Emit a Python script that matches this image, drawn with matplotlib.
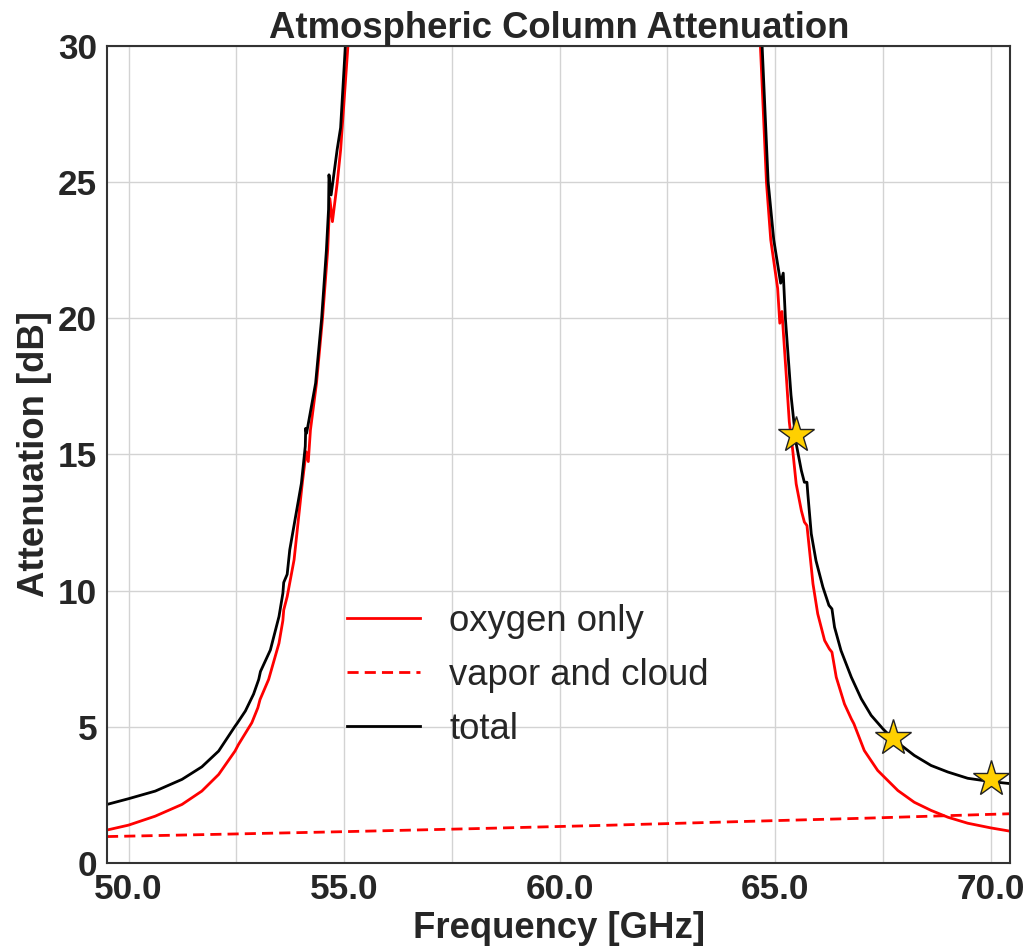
import matplotlib
matplotlib.use("Agg")
import matplotlib.pyplot as plt
from matplotlib.ticker import MultipleLocator, FormatStrFormatter

plt.rcParams['font.family'] = ['Liberation Sans', 'DejaVu Sans']

# ---- data ----
freq_left = [49.5, 50.0, 50.62, 51.24, 51.70, 52.09, 52.47, 52.55, 52.86, 53.0,
             53.05, 53.25, 53.49, 53.58, 53.6, 53.68, 53.84, 54.03, 54.12, 54.17, 54.22, 54.36,
             54.5, 54.62, 54.67, 54.73, 54.84, 54.92, 55.09, 55.12]
oxygen_left = [1.21, 1.39, 1.72, 2.15, 2.64, 3.25, 4.11, 4.35, 5.15, 5.7,
               6.0, 6.74, 8.07, 8.9, 9.29, 9.78, 11.13, 13.94, 15.1, 14.74, 15.9, 17.62,
               20.0, 22.5, 24.4, 23.55, 24.96, 26.18, 30.0, 31.0]

freq_left_t = [49.5, 50.0, 50.62, 51.24, 51.70, 52.09, 52.47, 52.52, 52.71, 52.9, 53.02,
               53.06, 53.29, 53.49, 53.58, 53.6, 53.68, 53.74, 54.01, 54.10, 54.11, 54.13,
               54.34, 54.48, 54.59, 54.64, 54.65, 54.70, 54.84, 54.92, 55.03, 55.06]
total_left = [2.15, 2.36, 2.64, 3.07, 3.53, 4.11, 5.02, 5.13, 5.58, 6.2, 6.74,
              7.03, 7.82, 9.05, 9.9, 10.3, 10.6, 11.5, 13.94, 15.3, 15.96, 15.78,
              17.62, 20.0, 22.5, 24.0, 25.27, 24.53, 26.2, 27.0, 30.0, 31.0]

freq_right = [64.62, 64.66, 64.80, 64.9, 65.06, 65.11, 65.16, 65.26, 65.33, 65.41, 65.49,
              65.61, 65.68, 65.74, 65.80, 65.88, 65.99, 66.15, 66.26, 66.32, 66.42, 66.61,
              66.77, 66.83, 67.07, 67.38, 67.5, 67.85, 68.23, 68.62, 69.01, 69.47, 70.0, 70.48]
oxygen_right = [31.0, 30.0, 25.0, 22.88, 21.1, 19.82, 20.25, 17.9, 16.2, 15.15, 13.92,
                12.94, 12.52, 12.39, 11.47, 10.25, 9.15, 8.17, 7.86, 7.74, 6.82, 5.84,
                5.29, 5.11, 4.13, 3.40, 3.21, 2.66, 2.23, 1.93, 1.68, 1.46, 1.29, 1.16]

freq_right_t = [64.66, 64.70, 64.84, 64.97, 65.13, 65.19, 65.24, 65.37, 65.49, 65.61, 65.68,
                65.74, 65.76, 65.84, 65.95, 66.11, 66.25, 66.32, 66.38, 66.53, 66.77, 67.0,
                67.23, 67.5, 67.73, 68.23, 68.62, 69.01, 69.47, 70.0, 70.48]
total_right = [31.0, 30.0, 25.0, 22.88, 21.29, 21.66, 20.0, 17.18, 15.4, 14.41, 13.98,
               13.98, 13.56, 12.09, 11.1, 10.13, 9.46, 9.33, 8.66, 7.80, 6.82, 6.03,
               5.42, 4.93, 4.56, 3.95, 3.58, 3.34, 3.11, 2.99, 2.91]

freq_vapor = [49.5, 52.0, 55.0, 58.0, 61.0, 65.1, 67.0, 70.5]
vapor_cloud = [0.97, 1.05, 1.15, 1.26, 1.38, 1.56, 1.64, 1.81]

star_freq = [65.49, 67.73, 70.0]
star_atten = [15.7, 4.58, 3.1]

# ---- figure ----
fig = plt.figure(figsize=(10.33, 9.5), dpi=100)
ax = fig.add_axes([0.1036, 0.0916, 0.8745, 0.86])

text_color = '#262626'
lw = 2.0
ax.plot(freq_left, oxygen_left, color='red', lw=lw, label='oxygen only')
ax.plot(freq_right, oxygen_right, color='red', lw=lw)
ax.plot(freq_vapor, vapor_cloud, color='red', lw=lw, ls='--', dashes=(4, 2.2),
        label='vapor and cloud')
ax.plot(freq_left_t, total_left, color='black', lw=lw, label='total')
ax.plot(freq_right_t, total_right, color='black', lw=lw)
ax.plot(star_freq, star_atten, ls='none', marker='*', ms=27, mfc='#FFD000',
        mec='#222222', mew=1.0, zorder=5)

ax.set_xlim(49.5, 70.46)
ax.set_ylim(0, 30)
ax.xaxis.set_major_locator(MultipleLocator(5))
ax.xaxis.set_minor_locator(MultipleLocator(2.5))
ax.xaxis.set_major_formatter(FormatStrFormatter('%.1f'))
ax.yaxis.set_major_locator(MultipleLocator(5))

ax.grid(True, which='both', color='#d3d3d3', lw=1.0)
ax.set_axisbelow(True)
ax.tick_params(which='both', length=0, labelsize=25.3, colors=text_color, pad=7)
for lab in ax.get_xticklabels() + ax.get_yticklabels():
    lab.set_fontweight('bold')
for sp in ax.spines.values():
    sp.set_color('#333333')
    sp.set_linewidth(1.5)

ax.set_title('Atmospheric Column Attenuation', fontsize=26.3, fontweight='bold',
             color=text_color, pad=6)
ax.set_xlabel('Frequency [GHz]', fontsize=26.3, fontweight='bold', color=text_color,
              labelpad=4)
ax.set_ylabel('Attenuation [dB]', fontsize=26.3, fontweight='bold', color=text_color,
              labelpad=4)

leg = ax.legend(loc='center', bbox_to_anchor=(0.466, 0.230), frameon=False,
                fontsize=26.3, handlelength=2.0, labelspacing=0.52, handletextpad=0.8)
for t in leg.get_texts():
    t.set_color(text_color)

fig.savefig('out.png', dpi=100)
